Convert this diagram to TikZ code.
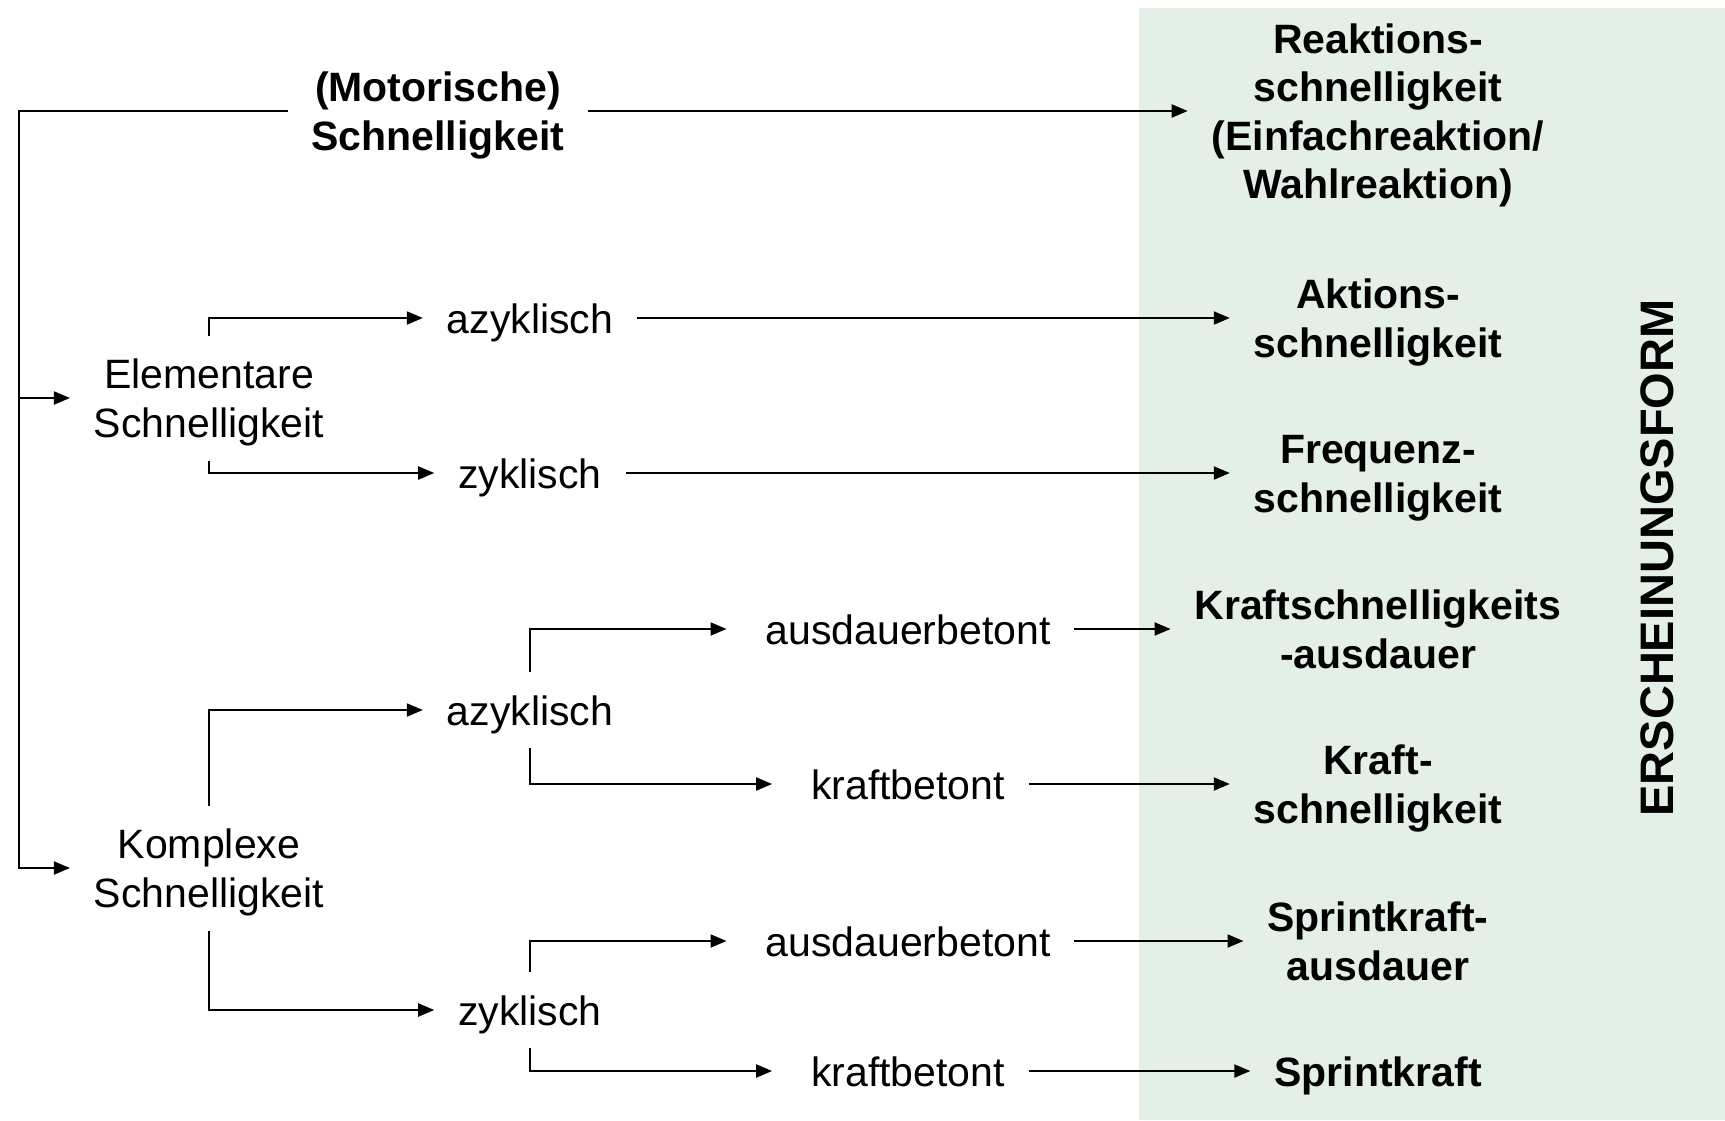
\documentclass[tikz,border=0pt]{standalone}
\usepackage{fontspec}
\setmainfont{Liberation Sans}
\usetikzlibrary{arrows.meta}
\definecolor{formgreen}{RGB}{228,240,231}

\begin{document}
\begin{tikzpicture}[x=0.5pt,y=-0.5pt,line width=1pt,
  every node/.style={font=\fontsize{20.5}{24.2}\selectfont,align=center,inner xsep=11.5pt,inner ysep=6.85pt,
    execute at begin node={\rule{0pt}{19.3pt}},execute at end node={\rule[-4.3pt]{0pt}{4.3pt}}},
  two/.style={execute at begin node={\rule{0pt}{43.5pt}}},
  four/.style={execute at begin node={\rule{0pt}{91.9pt}}},
  form/.style={font=\fontsize{20.5}{24.2}\selectfont\bfseries},
  arr/.style={-{Triangle[length=8pt,width=6.5pt]}},
  gap/.style={shorten >=7.5pt}]

  % Background
  \useasboundingbox (0,0) rectangle (1725,1120);
  \fill[formgreen] (1139,8) rectangle (1725,1120);

  % Root
  \node[form,two] (mot) at (438,111) {(Motorische)\\Schnelligkeit};
  \coordinate (trunk) at (19,111);

  % Elementare Schnelligkeit
  \node[two] (elem) at (209,398) {Elementare\\Schnelligkeit};
  \node (azy1) at (530,318) {azyklisch};
  \node (zyk1) at (530,473) {zyklisch};

  % Komplexe Schnelligkeit
  \node[two] (komp) at (209,868) {Komplexe\\Schnelligkeit};
  \node (azy2) at (530,710) {azyklisch};
  \node (zyk2) at (530,1010) {zyklisch};
  \node (ausd1) at (908,629) {ausdauerbetont};
  \node (kraftb1) at (908,784) {kraftbetont};
  \node (ausd2) at (908,941) {ausdauerbetont};
  \node (kraftb2) at (908,1071) {kraftbetont};

  % Erscheinungsformen
  \node[form,four] (reak) at (1378,111) {Reaktions-\\schnelligkeit\\(Einfachreaktion/\\Wahlreaktion)};
  \node[form,two] (akt) at (1378,318) {Aktions-\\schnelligkeit};
  \node[form,two] (freq) at (1378,473) {Frequenz-\\schnelligkeit};
  \node[form,two] (ksa) at (1378,629) {Kraftschnelligkeits\\-ausdauer};
  \node[form,two] (ks) at (1378,784) {Kraft-\\schnelligkeit};
  \node[form,two] (spa) at (1378,941) {Sprintkraft-\\ausdauer};
  \node[form] (sp) at (1378,1071) {Sprintkraft};
  \node[rotate=90,font=\fontsize{23.5}{28}\selectfont\bfseries] (title) at (1658,558) {ERSCHEINUNGSFORM};

  % Connectors
  \draw[arr] (mot.west) -- (trunk) |- (komp.west);
  \draw[arr] (trunk |- elem.west) -- (elem.west);
  \draw[arr] (mot.east) -- (mot.east -| reak.west);

  \draw[arr] (elem.north) |- (azy1.west);
  \draw[arr] (elem.south) |- (zyk1.west);
  \draw[arr] (azy1.east) -- (akt.west);
  \draw[arr] (zyk1.east) -- (freq.west);

  \draw[arr] (komp.north) |- (azy2.west);
  \draw[arr] (komp.south) |- (zyk2.west);
  \draw[arr,gap] (azy2.north) |- (ausd1.west);
  \draw[arr,gap] (azy2.south) |- (kraftb1.west);
  \draw[arr,gap] (zyk2.north) |- (ausd2.west);
  \draw[arr,gap] (zyk2.south) |- (kraftb2.west);

  \draw[arr] (ausd1.east) -- (ksa.west);
  \draw[arr] (kraftb1.east) -- (ks.west);
  \draw[arr] (ausd2.east) -- (spa.west);
  \draw[arr] (kraftb2.east) -- (sp.west);

\end{tikzpicture}
\end{document}
